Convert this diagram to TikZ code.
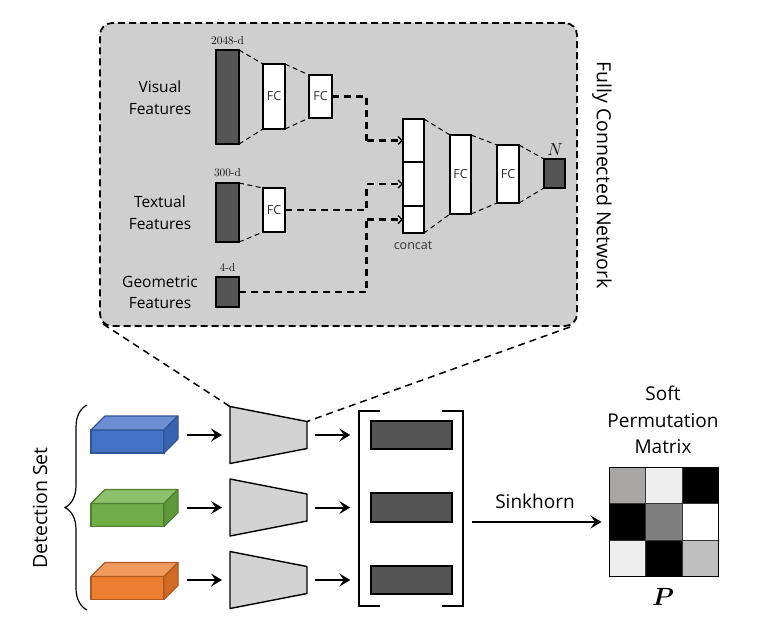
\documentclass[tikz,border=0pt]{standalone}
\usepackage{amsmath}
\usepackage{fontspec}
\newfontfamily\osans{Open Sans}
\usetikzlibrary{arrows.meta,calc,decorations.pathreplacing}
\definecolor{panelgray}{HTML}{CFCFCF}
\definecolor{darkbar}{HTML}{555555}
\definecolor{trapgray}{HTML}{D3D3D3}
\definecolor{bluefront}{HTML}{4472C4}
\definecolor{bluetop}{HTML}{6C8FD3}
\definecolor{blueside}{HTML}{3763B0}
\definecolor{blueline}{HTML}{2F5597}
\definecolor{greenfront}{HTML}{70AD47}
\definecolor{greentop}{HTML}{8DC06A}
\definecolor{greenside}{HTML}{5E9A3A}
\definecolor{greenline}{HTML}{507E32}
\definecolor{orangefront}{HTML}{ED7D31}
\definecolor{orangetop}{HTML}{F19A5E}
\definecolor{orangeside}{HTML}{D06A24}
\definecolor{orangeline}{HTML}{AE5A21}
\definecolor{cellA}{HTML}{A8A5A5}
\definecolor{cellB}{HTML}{EEEEEE}
\definecolor{cellC}{HTML}{7F7F7F}
\definecolor{cellD}{HTML}{BFBFBF}
\definecolor{fctext}{HTML}{333333}
\begin{document}
\begin{tikzpicture}[x=1pt,y=-1pt,
  box/.style={draw=black,line width=1.1pt,inner sep=0pt,outer sep=0pt},
  dbar/.style={box,fill=darkbar},
  fcbox/.style={box,fill=white,text=fctext,font=\osans\fontsize{12.5}{14}\selectfont},
  thindash/.style={line width=1pt,dash pattern=on 5pt off 3.5pt},
  conn/.style={line width=2.2pt,dash pattern=on 7pt off 5pt,-{Straight Barb[length=4pt,width=8pt,line width=1.3pt]}},
  connend/.style={line width=2.2pt,dash pattern=on 7pt off 5pt},
  lab/.style={align=center,font=\osans\fontsize{15.5}{21.6}\selectfont},
  dimlab/.style={font=\fontsize{11.5}{13}\selectfont},
  ghost/.style={inner sep=0pt,outer sep=0pt},
  trapz/.style={draw=black,line width=1.4pt,fill=trapgray,line join=round},
  arr/.style={line width=2pt,-{Stealth[length=11pt,width=13pt,inset=4.5pt]}},
  zoomline/.style={line width=1.5pt,dash pattern=on 7pt off 5pt},
  brk/.style={line width=2pt},
]
\useasboundingbox (0,0) rectangle (759,633);

% ---------- Panel ----------
\node[draw=black,line width=1.8pt,dash pattern=on 7pt off 4pt,rounded corners=12pt,
      fill=panelgray,minimum width=477pt,minimum height=303pt,inner sep=0pt] (panel) at (338.5,174.5) {};

% visual branch
\node[dbar,minimum width=23pt,minimum height=94pt] (vis) at (227.5,97) {};
\node[fcbox,minimum width=22pt,minimum height=65pt] (fc1) at (274,96.5) {FC};
\node[fcbox,minimum width=23pt,minimum height=43pt] (fc2) at (320.5,96.5) {FC};
\draw[thindash] (vis.north east) -- (fc1.north west);
\draw[thindash] (vis.south east) -- (fc1.south west);
\draw[thindash] (fc1.north east) -- (fc2.north west);
\draw[thindash] (fc1.south east) -- (fc2.south west);

% textual branch
\node[dbar,minimum width=23pt,minimum height=59pt] (txt) at (227.5,212.5) {};
\node[fcbox,minimum width=22pt,minimum height=44pt] (fc3) at (274,210) {FC};
\draw[thindash] (txt.north east) -- (fc3.north west);
\draw[thindash] (txt.south east) -- (fc3.south west);

% geometric
\node[dbar,minimum width=23pt,minimum height=30pt] (geo) at (227.5,292) {};

% dims
\node[dimlab] (d1) at (227.5,41) {2048-d};
\node[dimlab] (d2) at (227.5,173) {300-d};
\node[dimlab] (d3) at (227.5,268) {4-d};

% labels
\node[lab] (lv) at (160,97.5) {Visual\\Features};
\node[lab] (lt) at (160,212.5) {Textual\\Features};
\node[lab] (lg) at (160,292.5) {Geometric\\Features};

% concat
\node[box,fill=white,minimum width=21pt,minimum height=43pt] (c1) at (413.5,140.5) {};
\node[box,fill=white,minimum width=21pt,minimum height=44pt] (c2) at (413.5,184) {};
\node[box,fill=white,minimum width=21pt,minimum height=27pt] (c3) at (413.5,219.5) {};
\node[text=fctext,font=\osans\fontsize{12.5}{14}\selectfont] (cl) at (413,245) {concat};

% right chain
\node[fcbox,minimum width=21pt,minimum height=79pt] (fc4) at (460.5,174.5) {FC};
\node[fcbox,minimum width=22pt,minimum height=58pt] (fc5) at (508,174) {FC};
\node[dbar,minimum width=21pt,minimum height=29pt] (nb) at (554.5,173.5) {};
\node[font=\fontsize{16}{18}\selectfont] (nl) at (555,150) {$N$};
\draw[thindash] (c1.north east) -- (fc4.north west);
\draw[thindash] (c3.south east) -- (fc4.south west);
\draw[thindash] (fc4.north east) -- (fc5.north west);
\draw[thindash] (fc4.south east) -- (fc5.south west);
\draw[thindash] (fc5.north east) -- (nb.north west);
\draw[thindash] (fc5.south east) -- (nb.south west);

% connectors to concat
\coordinate (bus) at (366.5,0);
\draw[connend] (fc2.east) -| (bus |- c1.west);
\draw[conn] (bus |- c1.west) -- (c1.west);
\draw[connend] (fc3.east) -| (bus |- c2.west);
\draw[conn] (bus |- c2.west) -- (c2.west);
\draw[connend] (geo.east) -| (bus |- c3.west);
\draw[conn] (bus |- c3.west) -- (c3.west);

\node[rotate=-90,font=\osans\fontsize{19.5}{22}\selectfont] (fcn) at (602,175) {Fully Connected Network};

% ---------- Bottom ----------
\draw[line width=1.2pt,decorate,decoration={brace,amplitude=22pt}] (87,610) -- (87,405);
\node[rotate=90,font=\osans\fontsize{19.5}{22}\selectfont] (ds) at (40,508) {Detection Set};

% cuboids
\foreach \nm/\cy/\cf/\ct/\cs/\cl in {cubeA/441.5/bluefront/bluetop/blueside/blueline,
                                      cubeB/515/greenfront/greentop/greenside/greenline,
                                      cubeC/588/orangefront/orangetop/orangeside/orangeline}{
  \node[draw=\cl,line width=1.1pt,fill=\cf,minimum width=73pt,minimum height=23pt,inner sep=0pt,outer sep=0pt] (\nm) at (127.5,\cy) {};
  \draw[draw=\cl,line width=1.1pt,fill=\ct,line join=round] (\nm.north west) -- ++(14,-14) -- ++(73,0) -- (\nm.north east) -- cycle;
  \draw[draw=\cl,line width=1.1pt,fill=\cs,line join=round] (\nm.north east) -- ++(14,-14) -- ++(0,23) -- (\nm.south east) -- cycle;
}

% trapezoids
\foreach \nm/\cy in {tA/435,tB/507.5,tC/580}{
  \node[ghost,minimum width=77pt,minimum height=57pt] (\nm) at (268.5,\cy) {};
  \draw[trapz] (\nm.north west) -- ($(\nm.north east)+(0,15)$) -- ($(\nm.south east)+(0,-15)$) -- (\nm.south west) -- cycle;
}

% vector bracket
\node[ghost,minimum width=104pt,minimum height=195pt] (vec) at (411.3,508.5) {};
\draw[brk] ([xshift=21pt]vec.north west) -- (vec.north west) -- (vec.south west) -- ([xshift=21pt]vec.south west);
\draw[brk] ([xshift=-21pt]vec.north east) -- (vec.north east) -- (vec.south east) -- ([xshift=-21pt]vec.south east);
\node[dbar,minimum width=81pt,minimum height=28pt] (eA) at (411.5,435) {};
\node[dbar,minimum width=81pt,minimum height=29pt] (eB) at (411.5,507.5) {};
\node[dbar,minimum width=81pt,minimum height=28pt] (eC) at (411.5,580) {};

% arrows
\foreach \cu/\tr in {cubeA/tA,cubeB/tB,cubeC/tC}{
  \draw[arr] ([xshift=23pt]\cu.east |- \tr.west) -- ([xshift=-8pt]\tr.west);
  \draw[arr] ([xshift=8pt]\tr.east) -- ([xshift=-9pt]vec.west |- \tr.east);
}

% zoom lines
\coordinate (zl) at (103,324);
\coordinate (zr) at (570,327);
\coordinate (tAtr) at ($(tA.north east)+(0,15)$);
\draw[zoomline] (zl) -- (tA.north west);
\draw[zoomline] (zr) -- (tAtr);

% matrix
\node[ghost,minimum width=108.9pt,minimum height=108.9pt] (mat) at (663.95,521.95) {};
\foreach \col/\i/\j in {cellA/0/0,cellB/1/0,black/2/0,black/0/1,cellC/1/1,white/2/1,cellB/0/2,black/1/2,cellD/2/2}{
  \fill[\col] ($(mat.north west)+(\i*36.3,\j*36.3)$) rectangle ++(36.3,36.3);
}
\foreach \k in {1,2}{
  \draw[line width=1pt,black!80] ($(mat.north west)+(\k*36.3,0)$) -- ++(0,108.9);
  \draw[line width=1pt,black!80] ($(mat.north west)+(0,\k*36.3)$) -- ++(108.9,0);
}
\draw[line width=1.3pt] (mat.north west) rectangle (mat.south east);

\draw[arr] ([xshift=9pt]vec.east |- mat.west) -- ([xshift=-8pt]mat.west);
\node[font=\osans\fontsize{19}{22}\selectfont] (sk) at (535,501) {Sinkhorn};
\node[align=center,font=\osans\fontsize{19}{26.8}\selectfont] (spm) at (663,420) {Soft\\Permutation\\Matrix};
\node[font=\fontsize{24}{26}\selectfont] (pl) at (663,597) {$\boldsymbol{P}$};
\end{tikzpicture}
\end{document}
